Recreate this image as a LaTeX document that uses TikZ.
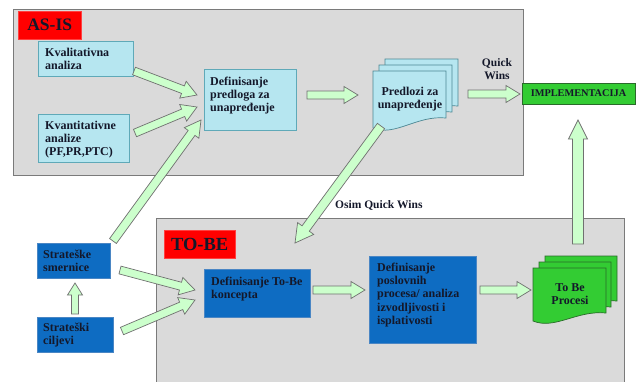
\documentclass[tikz,border=0pt]{standalone}
\usepackage{fontspec}
\setmainfont{Liberation Serif}
\usetikzlibrary{calc}
\definecolor{phasegray}{HTML}{DADADA}
\definecolor{phaseborder}{HTML}{7A7A7A}
\definecolor{tagred}{HTML}{FF0000}
\definecolor{lbfill}{HTML}{B6E6F0}
\definecolor{lbborder}{HTML}{5FA9B8}
\definecolor{dbfill}{HTML}{0E6CC2}
\definecolor{dbborder}{HTML}{4A86C4}
\definecolor{gfill}{HTML}{33CC33}
\definecolor{gborder}{HTML}{2A6A2A}
\definecolor{arrfill}{HTML}{CCFFCC}
\definecolor{arrborder}{HTML}{707070}
\definecolor{textdark}{HTML}{14182A}
% block arrow: tail, tip, half shaft, half head, head length (in pt)
\newcommand\bkarrow[5]{%
  \coordinate (tmpH) at ($(#2)!#5pt!(#1)$);
  \draw[arr] ($(#1)!#3pt!90:(#2)$) -- ($(tmpH)!#3pt!-90:(#1)$) -- ($(tmpH)!#4pt!-90:(#1)$)
    -- (#2) -- ($(tmpH)!#4pt!90:(#1)$) -- ($(tmpH)!#3pt!90:(#1)$) -- ($(#1)!#3pt!-90:(#2)$) -- cycle;}
% document page: x1, ytop, x2, yleftbottom, yrightbottom, style
\newcommand\docpage[6]{%
  \draw[#6] (#1,#2) -- (#3,#2) -- (#3,#5)
    .. controls ({#1+0.6*(#3-#1)},{#5-3}) and ({#1+0.3*(#3-#1)},{#4+9}) .. (#1,#4) -- cycle;}
\begin{document}
\begin{tikzpicture}[x=1pt,y=-1pt,
  phase/.style={draw=phaseborder, fill=phasegray, line width=0.8pt},
  tag/.style={fill=tagred, draw=red!75!white, line width=0.4pt, inner sep=0, text=textdark, font=\bfseries\fontsize{17.5}{19}\selectfont},
  lbox/.style={draw=lbborder, fill=lbfill, line width=0.8pt, inner sep=0, anchor=north west},
  dbox/.style={draw=dbborder, fill=dbfill, line width=0.8pt, inner sep=0, anchor=north west},
  gbox/.style={draw=gborder, fill=gfill, line width=0.6pt},
  lpage/.style={draw=lbborder!80!black, fill=lbfill, line width=0.7pt},
  gpage/.style={draw=gborder, fill=gfill, line width=0.7pt},
  txt/.style={font=\bfseries\fontsize{12}{13.4}\selectfont, align=left, inner sep=0, anchor=north west, text=textdark},
  ctxt/.style={font=\bfseries\fontsize{12}{13.4}\selectfont, align=center, inner sep=0, text=textdark},
  lbl/.style={font=\bfseries\fontsize{11.5}{13}\selectfont, align=center, inner sep=0, text=textdark},
  arr/.style={draw=arrborder, fill=arrfill, line width=0.7pt, line join=miter}]
\clip (0,0) rectangle (637,381);
\fill[white] (0,0) rectangle (637,381);
% phase areas
\draw[phase] (13,9) rectangle (523,175);
\draw[phase] (156,218) rectangle (624,390);
\node[tag, minimum width=63, minimum height=28, anchor=north west] (asis) at (18,11) {AS-IS};
\node[tag, minimum width=71, minimum height=28, anchor=north west, font=\bfseries\fontsize{18.5}{20}\selectfont] (tobe) at (164,230) {TO-BE};
% AS-IS boxes
\node[lbox, minimum width=95, minimum height=35] (kval) at (38,41) {};
\node[txt] (kvalt) at (45,47.5) {Kvalitativna\\analiza};
\node[lbox, minimum width=91, minimum height=48] (kvant) at (38,114) {};
\node[txt] (kvantt) at (45,120.5) {Kvantitativne\\analize\\(PF,PR,PTC)};
\node[lbox, minimum width=92, minimum height=61] (defp) at (204,69) {};
\node[txt] (defpt) at (210,76.5) {Definisanje\\predloga za\\unapređenje};
% documents Predlozi
\docpage{385}{59}{458}{116}{106}{lpage}
\docpage{379}{65}{452}{122}{112}{lpage}
\docpage{373}{71}{446}{128}{118}{lpage}
\node[ctxt] (pred) at (410,99) {Predlozi za\\unapređenje};
% implementation
\node[gbox, minimum width=113, minimum height=21, anchor=north west, inner sep=0] (impl) at (522,83) {};
\node[lbl, font=\bfseries\fontsize{10.3}{12}\selectfont] (implt) at (578.5,93.5) {IMPLEMENTACIJA};
% left strategic boxes
\node[dbox, minimum width=73, minimum height=35] (smer) at (37,243) {};
\node[txt] (smert) at (43,249.5) {Strateške\\smernice};
\node[dbox, minimum width=76, minimum height=35] (cilj) at (37,317) {};
\node[txt] (cijt) at (43,322.5) {Strateški\\ciljevi};
% TO-BE boxes
\node[dbox, minimum width=106, minimum height=48] (deftb) at (204,269) {};
\node[txt] (deftbt) at (211,276.5) {Definisanje To-Be\\koncepta};
\node[dbox, minimum width=107, minimum height=87] (posl) at (369,256) {};
\node[txt] (poslt) at (377,262.5) {Definisanje\\poslovnih\\procesa/ analiza\\izvodljivosti i\\isplativosti};
% documents To Be Procesi
\docpage{545}{256}{617}{309}{301}{gpage}
\docpage{539}{262}{611}{315}{307}{gpage}
\docpage{533}{268}{606}{321}{313}{gpage}
\node[ctxt] (tbp) at (570,294) {To Be\\Procesi};
% connector coordinates
\coordinate (a1s) at (134,71);  \coordinate (a1e) at (197,95);
\coordinate (a2s) at (135,133); \coordinate (a2e) at (197,107);
\coordinate (a3s) at (113,241); \coordinate (a3e) at (201,120);
\coordinate (a4s) at (307,95);  \coordinate (a4e) at (358,95);
\coordinate (a5s) at (468,94);  \coordinate (a5e) at (520,94);
\coordinate (a6s) at (381,126); \coordinate (a6e) at (295,243);
\coordinate (a7s) at (120,270); \coordinate (a7e) at (195,290);
\coordinate (a8s) at (122,331); \coordinate (a8e) at (195,300);
\coordinate (a9s) at (75,314);  \coordinate (a9e) at (75,283);
\coordinate (a10s) at (313,290); \coordinate (a10e) at (365,290);
\coordinate (a11s) at (480,290); \coordinate (a11e) at (531,290);
\coordinate (a12s) at (578,244); \coordinate (a12e) at (578,120);
% arrows
\bkarrow{a1s}{a1e}{4}{9}{15}
\bkarrow{a2s}{a2e}{4}{9}{15}
\bkarrow{a3s}{a3e}{4.2}{9}{16}
\bkarrow{a4s}{a4e}{4}{8.5}{14}
\bkarrow{a5s}{a5e}{4}{8.5}{14}
\bkarrow{a6s}{a6e}{4.5}{10}{18}
\bkarrow{a7s}{a7e}{4}{9}{15}
\bkarrow{a8s}{a8e}{4}{9}{15}
\bkarrow{a9s}{a9e}{3.5}{7.5}{12}
\bkarrow{a10s}{a10e}{4}{8.5}{14}
\bkarrow{a11s}{a11e}{4}{8.5}{14}
\bkarrow{a12s}{a12e}{5.5}{9.5}{19}
% labels
\node[lbl] (qw) at (497,69.5) {Quick\\Wins};
\node[lbl, anchor=north west] (osim) at (335,200) {Osim Quick Wins};
\end{tikzpicture}
\end{document}
